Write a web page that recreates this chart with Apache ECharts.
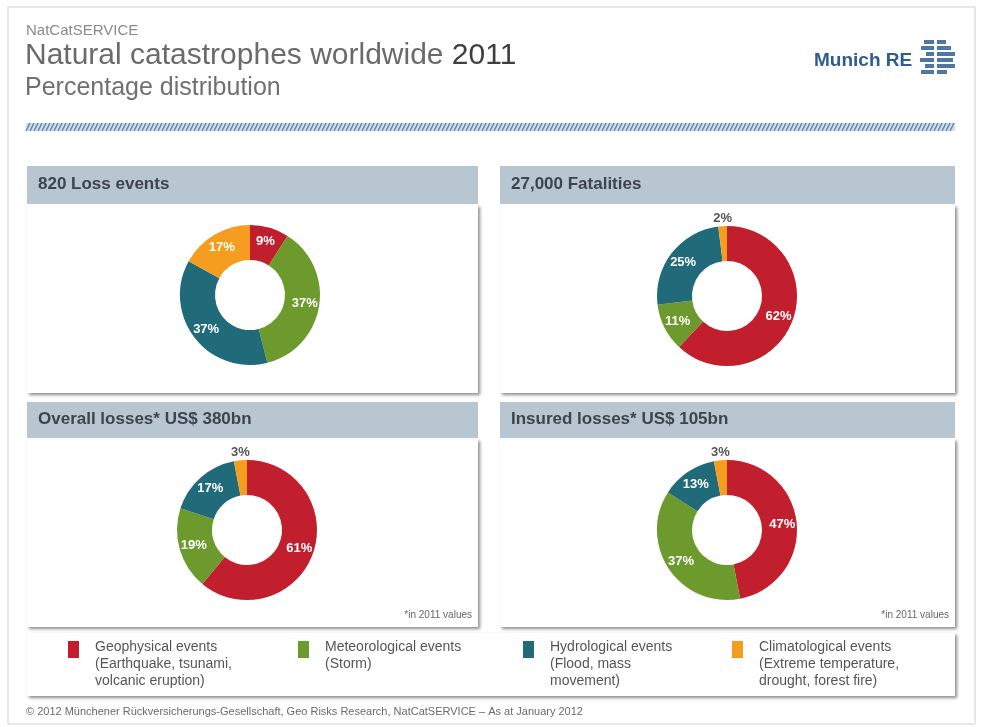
<!DOCTYPE html>
<html>
<head>
<meta charset="utf-8">
<title>Natural catastrophes worldwide 2011</title>
<script src="https://cdn.jsdelivr.net/npm/echarts@6/dist/echarts.min.js"></script>
<style>
  body { margin: 0; background: #ffffff; }
  #chart { width: 981px; height: 727px; }
</style>
</head>
<body>
<div id="chart"></div>
<script>
// categorias y valores (%)
var categorias = ['Geophysical events', 'Meteorological events', 'Hydrological events', 'Climatological events'];
var descripciones = ['(Earthquake, tsunami,\nvolcanic eruption)', '(Storm)', '(Flood, mass\nmovement)', '(Extreme temperature,\ndrought, forest fire)'];
var titulos = ['820 Loss events', '27,000 Fatalities', 'Overall losses* US$ 380bn', 'Insured losses* US$ 105bn'];
var lossEvents = [9, 37, 37, 17];
var fatalities = [62, 11, 25, 2];
var overallLosses = [61, 19, 17, 3];
var insuredLosses = [47, 37, 13, 3];

var colores = ['#c11f2d', '#6c9a2d', '#216a7a', '#f49d1f'];
var fuente = "'Liberation Sans', Arial, sans-serif";

var chart = echarts.init(document.getElementById('chart'), null, { renderer: 'canvas' });

// paneles: [x, yHeader, ancho, altoHeader, altoCuerpo]
var paneles = [
  [27, 166, 451, 38, 188],
  [500, 166, 455, 38, 188],
  [27, 402, 451, 36, 188],
  [500, 402, 455, 36, 188]
];
var centros = [[250, 295], [727, 296], [247, 530], [727, 530]];
var datos = [lossEvents, fatalities, overallLosses, insuredLosses];

var graficos = [];

// marco de la diapositiva
graficos.push({
  type: 'rect', shape: { x: 8, y: 7, width: 967, height: 717 },
  style: { fill: '#ffffff', stroke: '#cfcfcf', lineWidth: 1 }, z: -10
});

// encabezado
graficos.push({ type: 'text', left: 26, top: 23, style: { text: 'NatCatSERVICE', font: '15px ' + fuente, fill: '#8a8a8a' } });
graficos.push({ type: 'text', left: 25, top: 41, style: {
  text: '{a|Natural catastrophes worldwide }{b|2011}',
  rich: {
    a: { font: '30px ' + fuente, fill: '#6a6a6a' },
    b: { font: '30px ' + fuente, fill: '#3f3f3f' }
  }
} });
graficos.push({ type: 'text', left: 25, top: 76, style: { text: 'Percentage distribution', font: '25px ' + fuente, fill: '#707070' } });

// logo Munich RE
graficos.push({ type: 'text', left: 814, top: 51, style: { text: 'Munich RE', font: 'bold 19px ' + fuente, fill: '#2f5d90' } });
var barrasLogo = [[924, 40, 22], [921, 46, 30], [926, 52, 29], [920, 58, 33], [925, 64, 30], [921, 70, 26]];
barrasLogo.forEach(function (b) {
  graficos.push({ type: 'rect', shape: { x: b[0], y: b[1], width: b[2], height: 4 }, style: { fill: '#4f77a6' } });
});
graficos.push({ type: 'rect', shape: { x: 934, y: 38, width: 3, height: 38 }, style: { fill: '#ffffff' } });

// franja rayada
graficos.push({ type: 'rect', shape: { x: 26, y: 123, width: 929, height: 8 }, style: { fill: '#d3deeb' } });
for (var x = 26; x < 952; x += 4) {
  graficos.push({
    type: 'line', shape: { x1: x, y1: 131, x2: x + 4, y2: 123 },
    style: { stroke: '#5e85b5', lineWidth: 1.6 }, silent: true
  });
}

// paneles de cada grafico
paneles.forEach(function (p, i) {
  graficos.push({
    type: 'rect', shape: { x: p[0], y: p[1] + p[3] + 1, width: p[2], height: p[4] },
    style: { fill: '#ffffff', shadowColor: 'rgba(0,0,0,0.45)', shadowBlur: 3, shadowOffsetX: 2, shadowOffsetY: 2 }, z: -5
  });
  graficos.push({
    type: 'rect', shape: { x: p[0], y: p[1], width: p[2], height: p[3] },
    style: { fill: '#b8c6d2' }, z: -4
  });
  graficos.push({
    type: 'text', left: p[0] + 11, top: p[1] + p[3] / 2 - 9,
    style: { text: titulos[i], font: 'bold 17px ' + fuente, fill: '#3c444c' }
  });
  if (i >= 2) {
    graficos.push({
      type: 'text', right: 981 - (p[0] + p[2] - 6), top: p[1] + p[3] + p[4] - 16,
      style: { text: '*in 2011 values', font: '10px ' + fuente, fill: '#666666' }
    });
  }
});

// leyenda
graficos.push({
  type: 'rect', shape: { x: 27, y: 633, width: 928, height: 63 },
  style: { fill: '#ffffff', shadowColor: 'rgba(0,0,0,0.45)', shadowBlur: 3, shadowOffsetX: 2, shadowOffsetY: 2 }, z: -5
});
var leyendaX = [68, 298, 523, 732];
categorias.forEach(function (c, i) {
  graficos.push({ type: 'rect', shape: { x: leyendaX[i], y: 641, width: 11, height: 17 }, style: { fill: colores[i] } });
  graficos.push({
    type: 'text', left: leyendaX[i] + 27, top: 640,
    style: {
      text: '{t|' + c + '}\n{d|' + descripciones[i].split('\n').join('}\n{d|') + '}',
      rich: {
        t: { font: '14px ' + fuente, fill: '#555555', lineHeight: 17 },
        d: { font: '14px ' + fuente, fill: '#555555', lineHeight: 17 }
      }
    }
  });
});

// pie de pagina
graficos.push({
  type: 'text', left: 26, top: 706,
  style: { text: '\u00a9 2012 M\u00fcnchener R\u00fcckversicherungs-Gesellschaft, Geo Risks Research, NatCatSERVICE \u2013 As at January 2012', font: '11px ' + fuente, fill: '#6a6a6a' }
});

// series de donas
var series = datos.map(function (valores, s) {
  return {
    type: 'pie',
    center: centros[s],
    radius: [35, 70],
    startAngle: 90,
    clockwise: true,
    avoidLabelOverlap: false,
    label: {
      show: true,
      position: 'inside',
      formatter: '{c}%',
      color: '#ffffff',
      fontFamily: fuente,
      fontWeight: 'bold',
      fontSize: 13
    },
    labelLine: { show: false },
    labelLayout: function (params) {
      // porcentajes pequeños van encima del anillo
      if (valores[params.dataIndex] < 5) {
        return {
          x: params.rect.x + params.rect.width / 2,
          y: params.rect.y - 1,
          align: 'center',
          verticalAlign: 'bottom'
        };
      }
    },
    emphasis: { disabled: true },
    data: valores.map(function (v, i) {
      var item = { name: categorias[i], value: v, itemStyle: { color: colores[i] } };
      if (v < 5) {
        item.label = { color: '#555555' };
      }
      return item;
    })
  };
});

var options = {
  animation: false,
  backgroundColor: '#ffffff',
  graphic: graficos,
  series: series
};

chart.setOption(options);
</script>
</body>
</html>
